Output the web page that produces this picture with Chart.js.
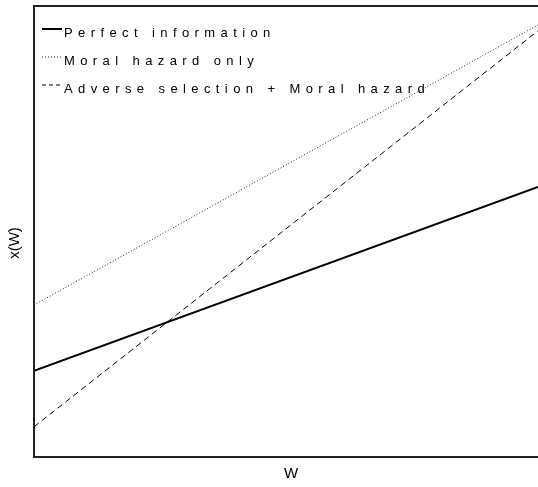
<!DOCTYPE html>
<html>
<head>
<meta charset="utf-8">
<script src="https://cdn.jsdelivr.net/npm/chart.js@4"></script>
<style>
  html, body { margin: 0; padding: 0; background: #fff; overflow: hidden; }
  #wrap { width: 538px; height: 487px; }
</style>
</head>
<body>
<div id="wrap"><canvas id="chart" width="538" height="487"></canvas></div>
<script>
// --- DATA ---
const wValues = [0, 1];
const perfectInfo = [19.1, 59.9];
const moralHazard = [33.7, 95.8];
const adverseMoral = [6.7, 94.5];
const seriesNames = ['Perfect information', 'Moral hazard only', 'Adverse selection + Moral hazard'];
const xTitle = 'W';
const yTitle = 'x(W)';

const toPoints = ys => wValues.map((w, i) => ({ x: w, y: ys[i] }));

// --- FRAME, LEGEND & AXIS TITLES (drawn by hand, old-R style) ---
const framePlugin = {
    id: 'frame',
    afterDraw(chart) {
        const { ctx, chartArea: a } = chart;
        ctx.save();

        // box: left, top, bottom (right edge runs off the canvas)
        ctx.strokeStyle = '#222';
        ctx.lineWidth = 2;
        ctx.setLineDash([]);
        ctx.beginPath();
        ctx.moveTo(chart.width + 2, a.top);
        ctx.lineTo(a.left, a.top);
        ctx.lineTo(a.left, a.bottom);
        ctx.lineTo(chart.width + 2, a.bottom);
        ctx.stroke();

        // legend
        ctx.font = '13px "Liberation Sans", Arial, sans-serif';
        ctx.letterSpacing = '5.4px';
        ctx.fillStyle = '#000';
        ctx.textBaseline = 'middle';
        chart.data.datasets.forEach((ds, i) => {
            const y = 33 + i * 28;
            ctx.strokeStyle = ds.borderColor;
            ctx.lineWidth = ds.borderWidth;
            ctx.setLineDash(ds.legendDash || ds.borderDash || []);
            ctx.beginPath();
            ctx.moveTo(42, y - 4);
            ctx.lineTo(62, y - 4);
            ctx.stroke();
            ctx.fillText(ds.label, 64, y);
        });

        // axis titles
        ctx.letterSpacing = '0px';
        ctx.font = '15px "Liberation Sans", Arial, sans-serif';
        ctx.textAlign = 'center';
        ctx.fillText(xTitle, 291, 474);
        ctx.translate(15, 243);
        ctx.rotate(-Math.PI / 2);
        ctx.fillText(yTitle, 0, 0);
        ctx.restore();
    }
};

new Chart(document.getElementById('chart').getContext('2d'), {
    type: 'line',
    data: {
        datasets: [
            { label: seriesNames[0], data: toPoints(perfectInfo), borderColor: '#000', borderWidth: 2, pointRadius: 0 },
            { label: seriesNames[1], data: toPoints(moralHazard), borderColor: '#222', borderWidth: 1, borderDash: [1, 2], pointRadius: 0 },
            { label: seriesNames[2], data: toPoints(adverseMoral), borderColor: '#000', borderWidth: 1, borderDash: [6, 4], legendDash: [4, 3], pointRadius: 0 }
        ]
    },
    options: {
        responsive: false,
        animation: false,
        layout: { padding: { left: 34, top: 6, right: 0, bottom: 30 } },
        plugins: { legend: { display: false }, tooltip: { enabled: false } },
        scales: {
            x: { type: 'linear', min: 0, max: 1, display: false },
            y: { min: 0, max: 100, display: false }
        }
    },
    plugins: [framePlugin]
});
</script>
</body>
</html>
